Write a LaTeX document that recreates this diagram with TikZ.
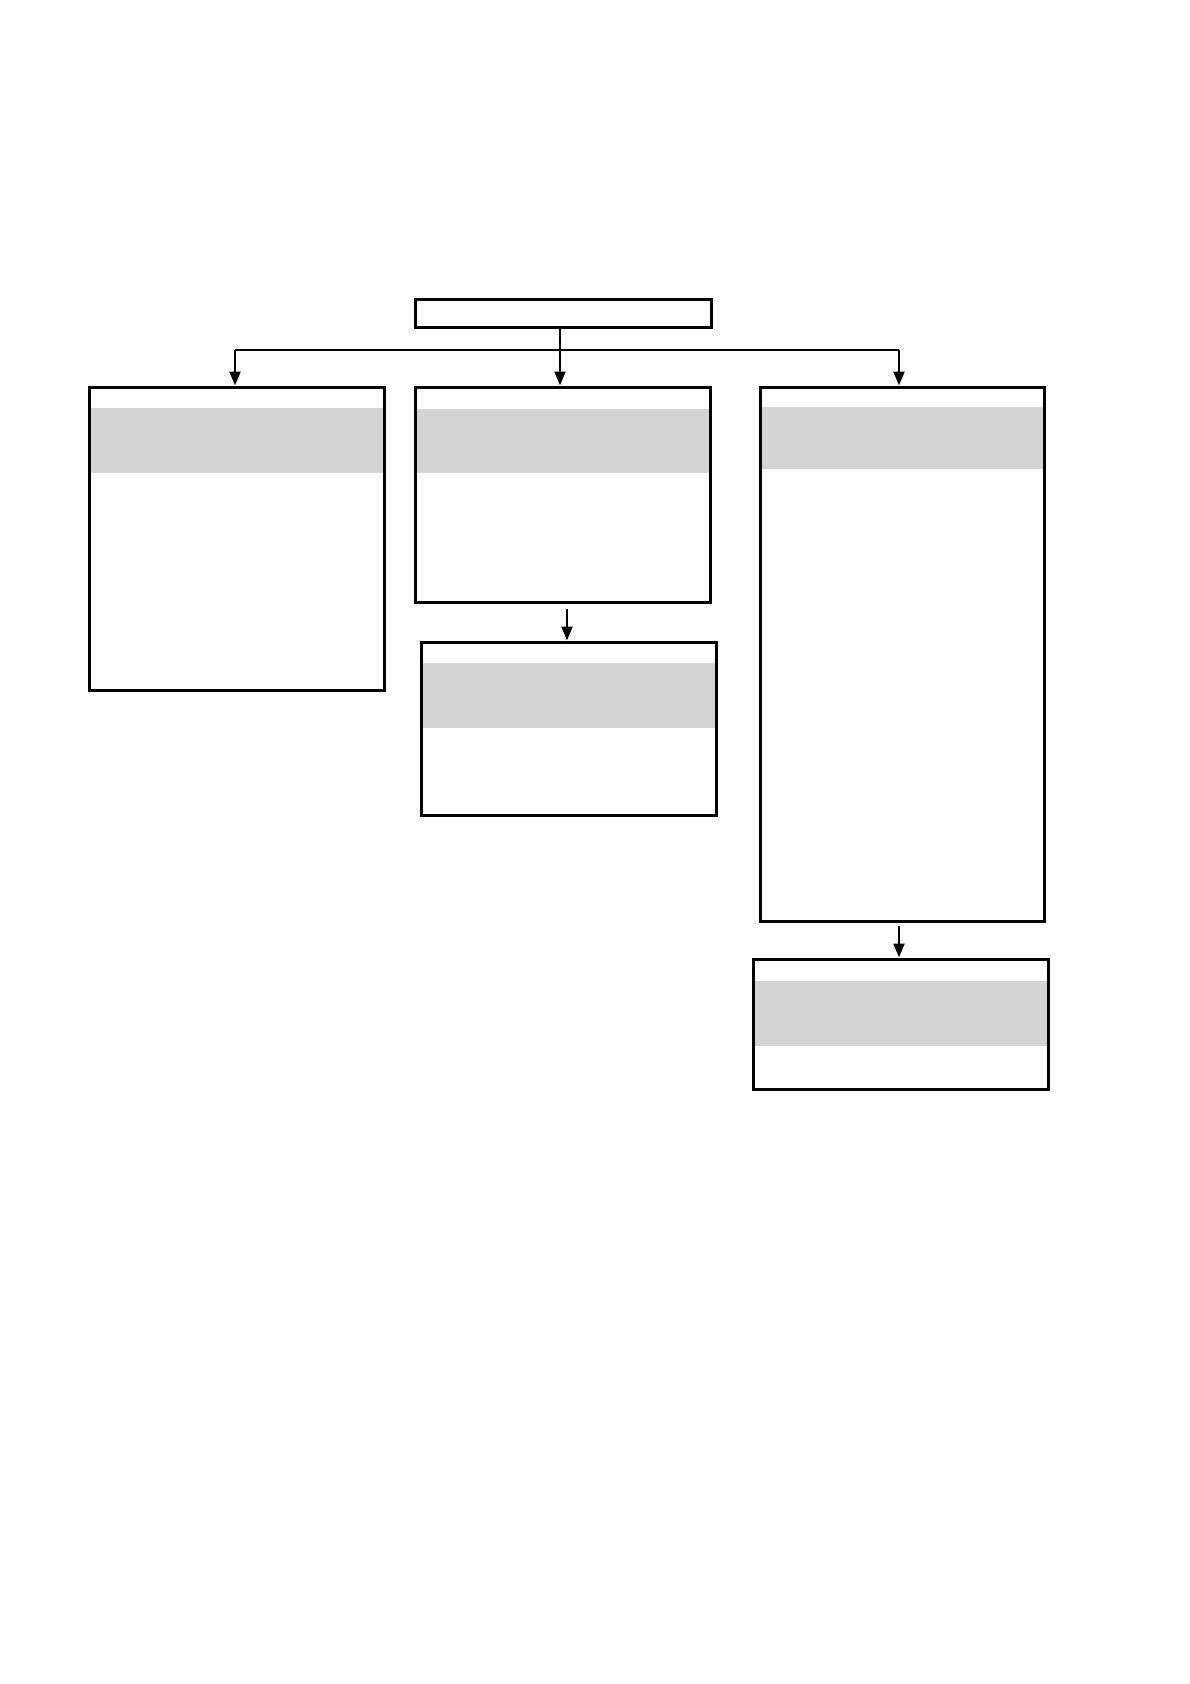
\documentclass[tikz,border=0pt]{standalone}
\usetikzlibrary{fit,arrows.meta,calc}
\begin{document}
\begin{tikzpicture}[x=0.5bp,y=-0.5bp,
  box/.style={draw=black,line width=1.5bp,inner sep=0pt,fill=none},
  band/.style={fill=black!17,draw=none,inner sep=0pt},
  arr/.style={line width=1.4bp,-{Triangle[length=7bp,width=5.4bp]}},
  conn/.style={line width=1.4bp}]
\useasboundingbox[fill=white] (0,0) rectangle (1190,1684);
% gray bands
\node[band,fit={(90,408) (383,473)}] (lband) {};
\node[band,fit={(416,409) (709,473)}] (mband) {};
\node[band,fit={(422,663) (715,728)}] (m2band) {};
\node[band,fit={(761,407) (1043,469)}] (rband) {};
\node[band,fit={(754,981) (1047,1046)}] (r2band) {};
% boxes
\node[box,fit={(415,299) (711,327)}] (root) {};
\node[box,fit={(89,387) (384,690)}] (left) {};
\node[box,fit={(415,387) (710,602)}] (mid) {};
\node[box,fit={(421,642) (716,815)}] (mid2) {};
\node[box,fit={(760,387) (1044,921)}] (right) {};
\node[box,fit={(753,959) (1048,1089)}] (right2) {};
% connectors
\coordinate (j) at (560,350);
\coordinate (jl) at (235,350);
\coordinate (jr) at (899,350);
\draw[conn] (j |- root.south) -- (j);
\draw[conn] (jl) -- (jr);
\draw[arr] (j) -- (j |- mid.north);
\draw[arr] (jl) -- (jl |- left.north);
\draw[arr] (jr) -- (jr |- right.north);
\coordinate (m2) at (567,642);
\draw[arr] (m2 |- mid.south) ++(0,5) -- (m2 |- mid2.north);
\coordinate (r2) at (899,959);
\draw[arr] (r2 |- right.south) ++(0,3) -- (r2 |- right2.north);
\end{tikzpicture}
\end{document}
